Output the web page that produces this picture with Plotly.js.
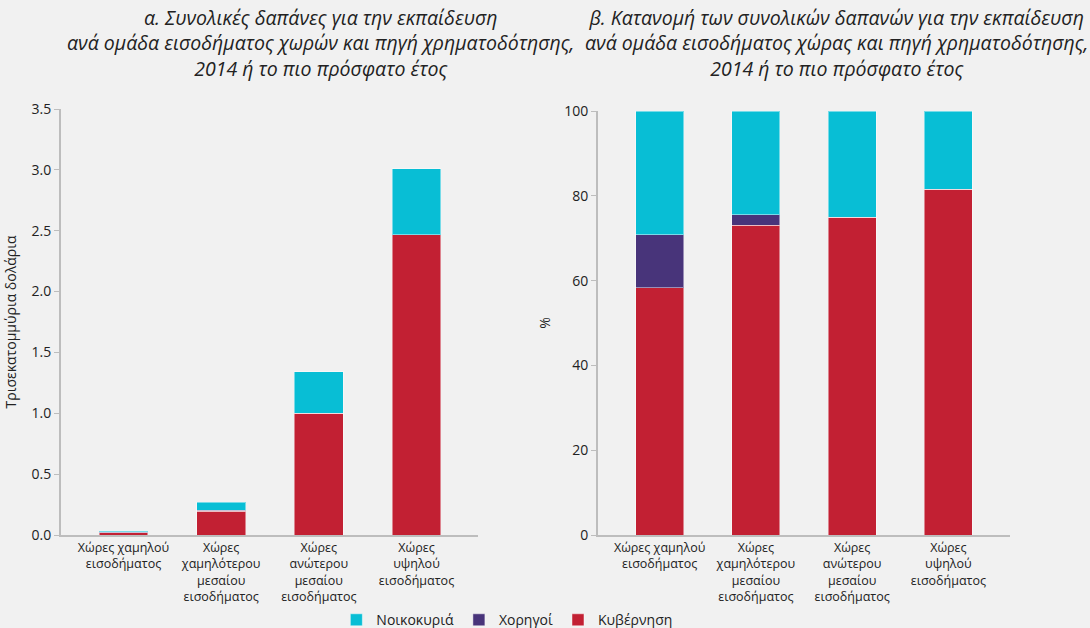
<!DOCTYPE html>
<html><head><meta charset="utf-8">
<script src="https://cdn.plot.ly/plotly-3.0.1.min.js"></script>
<style>html,body{margin:0;padding:0;background:#f1f1f1;}#chart{width:1090px;height:628px;}</style>
</head><body><div id="chart"></div>
<script>
const categories = [
  "Χώρες χαμηλού<br>εισοδήματος",
  "Χώρες<br>χαμηλότερου<br>μεσαίου<br>εισοδήματος",
  "Χώρες<br>ανώτερου<br>μεσαίου<br>εισοδήματος",
  "Χώρες<br>υψηλού<br>εισοδήματος"
];
// Panel a: trillions of dollars
const govAbs = [0.018, 0.197, 1.0, 2.465];
const donorsAbs = [0.004, 0.007, 0, 0];
const householdsAbs = [0.008, 0.066, 0.34, 0.545];
// Panel b: percent
const govPct = [58.3, 73.1, 75.0, 81.6];
const donorsPct = [12.5, 2.4, 0, 0];
const householdsPct = [29.2, 24.5, 25.0, 18.4];

const seriesNames = ["Κυβέρνηση", "Χορηγοί", "Νοικοκυριά"];
const colors = ["#c22033", "#48347a", "#08bed5"];

const titleA = "α. Συνολικές δαπάνες για την εκπαίδευση<br>ανά ομάδα εισοδήματος χωρών και πηγή χρηματοδότησης,<br>2014 ή το πιο πρόσφατο έτος";
const titleB = "β. Κατανομή των συνολικών δαπανών για την εκπαίδευση<br>ανά ομάδα εισοδήματος χώρας και πηγή χρηματοδότησης,<br>2014 ή το πιο πρόσφατο έτος";

const absData = [govAbs, donorsAbs, householdsAbs];
const pctData = [govPct, donorsPct, householdsPct];
const traces = [];
for (let i = 0; i < 3; i++) {
  traces.push({type: 'bar', x: categories, y: absData[i], name: seriesNames[i], legendgroup: seriesNames[i],
    marker: {color: colors[i], line: {color: 'rgba(255,255,255,0.45)', width: 1}}, width: 0.5,
    xaxis: 'x', yaxis: 'y', showlegend: true, hoverinfo: 'y'});
  traces.push({type: 'bar', x: categories, y: pctData[i], name: seriesNames[i], legendgroup: seriesNames[i],
    marker: {color: colors[i], line: {color: 'rgba(255,255,255,0.45)', width: 1}}, width: 0.5,
    xaxis: 'x2', yaxis: 'y2', showlegend: false, hoverinfo: 'y'});
}

const W = 1090;
const font = {family: 'Open Sans, Noto Sans, sans-serif', color: '#222'};
const axisCommon = {showline: true, linecolor: '#bdbdbd', linewidth: 2, ticks: 'outside', tickcolor: '#bdbdbd',
  ticklen: 5, tickwidth: 1, showgrid: false, zeroline: false, fixedrange: true, automargin: false};
const catFont = {size: 12.5, family: 'Open Sans, sans-serif', color: '#222'};
const numFont = {size: 14, family: 'Open Sans, sans-serif', color: '#222'};

const layout = {
  width: 1090, height: 628,
  paper_bgcolor: '#f1f1f1', plot_bgcolor: '#f1f1f1',
  margin: {l: 0, r: 0, t: 109, b: 93, autoexpand: false},
  barmode: 'stack', bargap: 0.5,
  font: font,
  showlegend: true,
  legend: {orientation: 'h', x: 0.465, xanchor: 'center', y: -0.2, yanchor: 'middle', traceorder: 'reversed',
    font: {size: 14, family: 'Open Sans, Noto Sans, sans-serif', color: '#222'}, itemwidth: 30, bgcolor: 'rgba(0,0,0,0)'},
  xaxis: Object.assign({}, axisCommon, {domain: [61/W, 478/W], range: [-0.64, 3.63], ticks: '',
    tickfont: catFont, anchor: 'y'}),
  yaxis: Object.assign({}, axisCommon, {domain: [0, 1], range: [0, 3.5], dtick: 0.5, tickformat: '.1f',
    tickfont: numFont, anchor: 'x',
    title: {text: 'Τρισεκατομμύρια δολάρια', font: {size: 14, color: '#222'}, standoff: 12}}),
  xaxis2: Object.assign({}, axisCommon, {domain: [598/W, 1010/W], range: [-0.64, 3.64], ticks: '',
    tickfont: catFont, anchor: 'y2'}),
  yaxis2: Object.assign({}, axisCommon, {domain: [0, 424/426], range: [0, 100], dtick: 20,
    tickfont: numFont, anchor: 'x2',
    title: {text: '%', font: {size: 14, color: '#222'}, standoff: 10}}),
  annotations: [
    {text: '<i>' + titleA + '</i>', xref: 'paper', yref: 'paper', x: 320/W, xanchor: 'center', y: (628-93-2)/426, yanchor: 'top',
      showarrow: false, align: 'center', font: {size: 19.5, family: 'Open Sans, sans-serif', color: '#222'}},
    {text: '<i>' + titleB + '</i>', xref: 'paper', yref: 'paper', x: 836/W, xanchor: 'center', y: (628-93-2)/426, yanchor: 'top',
      showarrow: false, align: 'center', font: {size: 19.5, family: 'Open Sans, sans-serif', color: '#222'}}
  ]
};
Plotly.newPlot('chart', traces, layout, {displayModeBar: false, staticPlot: true});
</script></body></html>
